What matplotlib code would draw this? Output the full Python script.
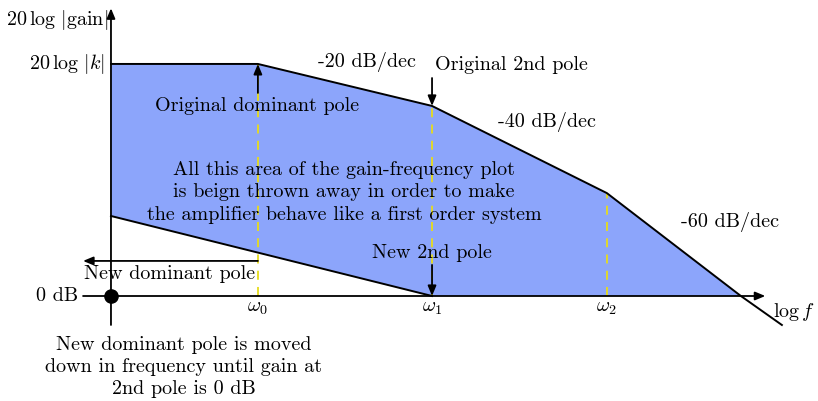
import matplotlib.pyplot as plt
from matplotlib.patches import Polygon

plt.rcParams['mathtext.fontset'] = 'cm'
plt.rcParams['font.family'] = 'cmr10'
plt.rcParams['axes.unicode_minus'] = False

# break frequencies (decades from the gain axis) and gains (dB)
w_labels = [r'$\omega_0$', r'$\omega_1$', r'$\omega_2$']
w_pos = [0.842, 1.840, 2.842]
f_orig = [0.0, 0.842, 1.840, 2.842, 3.610, 3.845]
g_orig = [110.5, 110.5, 90.5, 49.0, 0.0, -13.8]
f_new = [0.0, 1.840]
g_new = [38.1, 0.0]
slopes = ['-20', '-40', '-60']

fig = plt.figure(figsize=(8.18, 4.01), dpi=100)
ax = fig.add_axes([0, 0, 1, 1])
ax.set_xlim(-0.636, 4.052)
ax.set_ylim(-50.0, 140.95)
ax.axis('off')

fill_pts = list(zip(f_orig[:5], g_orig[:5])) + list(zip(f_new[::-1], g_new[::-1]))
ax.add_patch(Polygon(fill_pts, closed=True, facecolor='#8ca5fb', edgecolor='none', zorder=1))

for w, g in zip(w_pos, g_orig[1:4]):
    ax.plot([w, w], [0, g], color='#e6dc1c', ls=(0, (5, 4)), lw=1.3, zorder=2)

ax.plot(f_orig, g_orig, color='black', lw=1.4, zorder=3)
ax.plot(f_new, g_new, color='black', lw=1.4, zorder=3)

arrow = dict(arrowstyle='-|>,head_length=0.6,head_width=0.25', color='black', lw=1.3,
             shrinkA=0, shrinkB=0)
# axes
ax.annotate('', xy=(0, 137), xytext=(0, -13.8), arrowprops=arrow, zorder=4)
ax.annotate('', xy=(3.75, 0), xytext=(-0.16, 0), arrowprops=arrow, zorder=4)
ax.plot(0, 0, 'o', color='black', ms=9.5, zorder=5)

# pole arrows
ax.annotate('', xy=(w_pos[0], 110.5), xytext=(w_pos[0], 96.7), arrowprops=arrow, zorder=4)
ax.annotate('', xy=(w_pos[1], 90.5), xytext=(w_pos[1], 103.8), arrowprops=arrow, zorder=4)
ax.annotate('', xy=(w_pos[1], 0), xytext=(w_pos[1], 14.8), arrowprops=arrow, zorder=4)
ax.annotate('', xy=(-0.16, 16.7), xytext=(w_pos[0], 16.7), arrowprops=arrow, zorder=4)

fs = 14.5
ax.text(-0.017, 131.4, r'$20\,\log\,|\mathrm{gain}|$', ha='right', va='center', fontsize=fs)
ax.text(-0.034, 110.5, r'$20\,\log\,|k|$', ha='right', va='center', fontsize=fs)
ax.text(-0.19, 0, '0 dB', ha='right', va='center', fontsize=fs)
for lab, w in zip(w_labels, w_pos):
    ax.text(w, -5.5, lab, ha='center', va='center', fontsize=fs)
ax.text(3.914, -7.6, r'$\log f$', ha='center', va='center', fontsize=fs)

for s, (x, y) in zip(slopes, [(1.467, 111.4), (2.499, 82.9), (3.547, 35.2)]):
    ax.text(x, y, s + ' dB/dec', ha='center', va='center', fontsize=fs)

ax.text(0.84, 90.5, 'Original dominant pole', ha='center', va='center', fontsize=fs)
ax.text(1.857, 110, 'Original 2nd pole', ha='left', va='center', fontsize=fs)
ax.text(1.335, 49.5, 'All this area of the gain-frequency plot\n'
        'is beign thrown away in order to make\n'
        'the amplifier behave like a first order system',
        ha='center', va='center', fontsize=fs, linespacing=1.32, zorder=6)
ax.text(1.840, 20.5, 'New 2nd pole', ha='center', va='center', fontsize=fs)
ax.text(0.338, 10.5, 'New dominant pole', ha='center', va='center', fontsize=fs)
ax.text(0.418, -33.8, 'New dominant pole is moved\n'
        'down in frequency until gain at\n'
        '2nd pole is 0 dB',
        ha='center', va='center', fontsize=fs, linespacing=1.3)

fig.savefig('out.png', dpi=100)
